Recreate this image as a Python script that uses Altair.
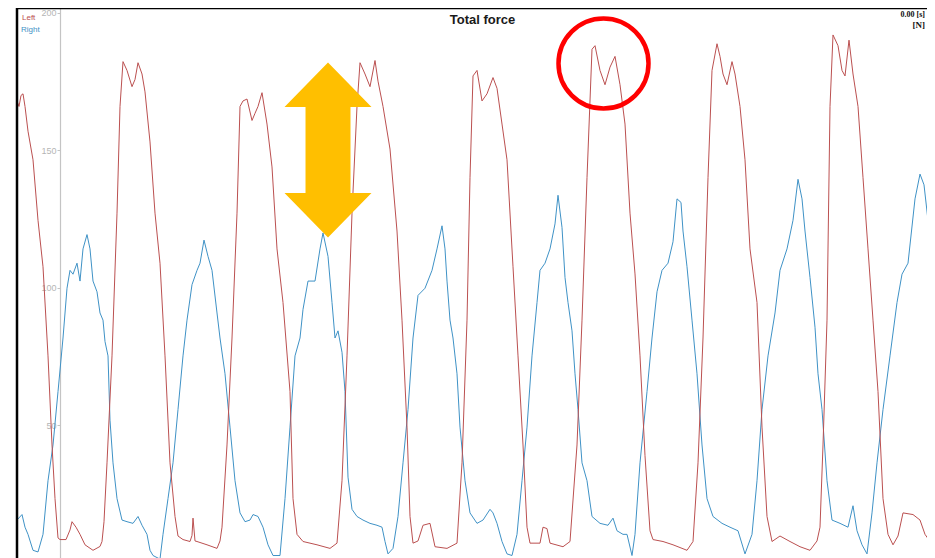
import altair as alt
import pandas as pd

# ---- data (time in s, force in N) ----
left_t = [0.00, 0.02, 0.04, 0.06, 0.08, 0.11, 0.16, 0.21, 0.26, 0.31, 0.35, 0.38, 0.41, 0.43, 0.49, 0.53, 0.55, 0.59,
          0.63, 0.68, 0.76, 0.83, 0.85, 0.87, 0.90, 0.95, 1.00, 1.03, 1.06, 1.10, 1.15, 1.18, 1.21, 1.25, 1.28, 1.33,
          1.38, 1.43, 1.48, 1.53, 1.58, 1.61, 1.66, 1.73, 1.75, 1.76, 1.78, 1.80, 1.90, 2.00, 2.03, 2.05, 2.10, 2.15,
          2.20, 2.23, 2.26, 2.30, 2.35, 2.38, 2.41, 2.45, 2.50, 2.55, 2.60, 2.66, 2.73, 2.76, 2.80, 2.86, 3.00, 3.13,
          3.20, 3.25, 3.30, 3.35, 3.40, 3.43, 3.48, 3.53, 3.58, 3.61, 3.66, 3.73, 3.80, 3.85, 3.90, 3.93, 3.96, 4.01,
          4.06, 4.13, 4.18, 4.30, 4.40, 4.45, 4.50, 4.53, 4.56, 4.60, 4.65, 4.70, 4.76, 4.80, 4.85, 4.90, 4.96, 5.01,
          5.06, 5.10, 5.13, 5.23, 5.26, 5.30, 5.33, 5.46, 5.53, 5.60, 5.65, 5.70, 5.75, 5.78, 5.83, 5.88, 5.93, 5.98,
          6.03, 6.08, 6.13, 6.18, 6.23, 6.28, 6.33, 6.36, 6.46, 6.56, 6.70, 6.76, 6.81, 6.86, 6.91, 6.95, 7.00, 7.03,
          7.06, 7.10, 7.15, 7.18, 7.23, 7.28, 7.33, 7.40, 7.45, 7.50, 7.55, 7.63, 7.73, 7.83, 7.93, 8.00, 8.03, 8.06,
          8.10, 8.13, 8.16, 8.21, 8.25, 8.28, 8.32, 8.36, 8.41, 8.46, 8.51, 8.56, 8.61, 8.66, 8.71, 8.76, 8.81, 8.86,
          8.96, 9.03, 9.08, 9.13, 9.18]
left_force = [168.0, 166.0, 170.0, 170.6, 166.0, 157.0, 146.6, 124.6, 107.7, 75.3, 42.9, 23.4, 9.1, 8.5, 8.5, 12.0,
              15.0, 13.0, 10.4, 6.6, 4.6, 6.0, 7.8, 15.0, 36.4, 75.3, 127.2, 166.0, 182.3, 179.1, 173.2, 175.8, 181.9,
              177.8, 171.3, 153.1, 127.2, 109.0, 75.3, 36.4, 16.9, 9.8, 8.5, 7.8, 10.0, 16.3, 8.0, 7.8, 6.6, 5.3, 8.0,
              13.0, 42.9, 81.8, 127.2, 166.0, 168.0, 168.7, 160.9, 163.5, 166.0, 171.0, 159.6, 144.0, 114.2, 94.7,
              62.3, 23.4, 10.4, 7.8, 6.6, 5.3, 7.2, 29.9, 75.3, 127.2, 166.0, 181.9, 177.8, 173.2, 182.7, 175.2,
              166.0, 150.5, 120.7, 88.3, 49.4, 16.9, 7.2, 8.0, 13.7, 14.4, 5.9, 5.3, 7.2, 36.4, 88.3, 140.1, 177.1,
              179.1, 168.0, 170.6, 176.5, 172.6, 159.6, 146.6, 107.7, 75.3, 42.9, 13.0, 7.2, 7.2, 13.0, 12.5, 7.2,
              5.9, 7.8, 42.9, 88.3, 140.1, 186.8, 188.1, 179.1, 173.9, 180.3, 184.2, 173.9, 159.6, 127.2, 105.1, 75.3,
              39.0, 11.7, 8.5, 7.8, 6.6, 4.6, 7.8, 36.4, 81.8, 140.1, 179.1, 188.8, 184.2, 177.8, 173.9, 182.3, 177.8,
              166.0, 146.6, 114.2, 94.7, 49.4, 16.9, 7.8, 9.8, 7.8, 5.9, 4.6, 8.0, 13.0, 42.9, 88.3, 166.0, 192.0,
              188.1, 179.1, 177.1, 190.1, 177.8, 166.0, 140.1, 114.2, 88.3, 62.3, 23.4, 10.4, 6.6, 9.8, 18.2, 17.6,
              15.6, 10.4, 7.8, 11.7]

right_t = [0.00, 0.05, 0.08, 0.11, 0.16, 0.21, 0.26, 0.31, 0.36, 0.41, 0.46, 0.50, 0.53, 0.56, 0.60, 0.63, 0.66, 0.70,
           0.73, 0.76, 0.80, 0.83, 0.86, 0.88, 0.91, 0.93, 0.96, 1.00, 1.05, 1.10, 1.16, 1.21, 1.25, 1.30, 1.33, 1.36,
           1.43, 1.46, 1.51, 1.56, 1.61, 1.66, 1.70, 1.75, 1.80, 1.83, 1.87, 1.91, 1.95, 2.00, 2.03, 2.08, 2.13, 2.18,
           2.23, 2.28, 2.33, 2.36, 2.41, 2.46, 2.51, 2.56, 2.63, 2.68, 2.73, 2.78, 2.83, 2.86, 2.91, 2.98, 3.03, 3.06,
           3.11, 3.15, 3.18, 3.21, 3.25, 3.28, 3.31, 3.35, 3.40, 3.46, 3.53, 3.60, 3.65, 3.68, 3.71, 3.76, 3.81, 3.86,
           3.91, 3.96, 4.01, 4.08, 4.15, 4.20, 4.25, 4.28, 4.30, 4.33, 4.36, 4.40, 4.43, 4.48, 4.53, 4.60, 4.66, 4.73,
           4.76, 4.80, 4.85, 4.90, 4.95, 5.00, 5.05, 5.10, 5.15, 5.20, 5.23, 5.28, 5.33, 5.38, 5.41, 5.45, 5.48, 5.51,
           5.55, 5.58, 5.61, 5.65, 5.70, 5.75, 5.83, 5.91, 5.96, 6.00, 6.06, 6.10, 6.15, 6.18, 6.23, 6.30, 6.35, 6.40,
           6.45, 6.51, 6.56, 6.60, 6.64, 6.66, 6.70, 6.75, 6.80, 6.85, 6.90, 6.96, 7.05, 7.13, 7.21, 7.28, 7.35, 7.40,
           7.45, 7.51, 7.58, 7.63, 7.70, 7.76, 7.81, 7.85, 7.88, 7.93, 7.98, 8.01, 8.05, 8.10, 8.15, 8.23, 8.31, 8.36,
           8.40, 8.45, 8.50, 8.55, 8.60, 8.66, 8.73, 8.80, 8.85, 8.91, 8.98, 9.03, 9.07, 9.11, 9.15, 9.18]
right_force = [15.6, 17.6, 13.0, 10.4, 4.6, 4.0, 10.4, 29.9, 42.9, 62.3, 81.8, 99.9, 106.4, 105.0, 109.0, 102.5, 114.2,
               119.4, 114.2, 102.5, 98.6, 90.9, 88.3, 80.5, 75.3, 51.9, 36.4, 23.4, 15.6, 15.0, 14.4, 16.9, 13.7,
               10.4, 4.6, 2.7, 1.4, 10.4, 23.4, 36.4, 55.8, 75.3, 88.3, 101.2, 106.4, 109.0, 117.4, 111.5, 106.4,
               90.9, 81.8, 68.8, 49.4, 29.9, 18.2, 15.0, 15.6, 17.6, 16.9, 13.0, 6.6, 2.7, 2.7, 23.4, 49.4, 75.3,
               81.8, 92.2, 102.5, 102.5, 114.2, 120.0, 111.5, 94.7, 81.8, 84.4, 76.6, 62.3, 31.2, 19.5, 16.9, 15.6,
               14.4, 13.7, 13.0, 7.8, 3.3, 5.3, 16.9, 36.4, 55.8, 81.8, 97.3, 99.9, 106.4, 114.2, 122.6, 114.2, 102.5,
               88.3, 81.8, 68.8, 49.4, 29.9, 18.2, 14.4, 15.6, 19.5, 18.2, 14.4, 7.8, 3.3, 2.7, 10.4, 29.9, 49.4,
               75.3, 94.7, 106.4, 109.0, 114.2, 123.3, 133.7, 122.0, 103.8, 94.7, 84.4, 68.8, 55.8, 36.4, 29.9, 16.9,
               14.4, 13.7, 16.3, 11.7, 10.4, 10.4, 2.7, 10.4, 36.4, 62.3, 81.8, 98.6, 106.4, 109.0, 116.8, 132.4,
               131.1, 120.7, 107.7, 88.3, 68.8, 42.9, 23.4, 16.9, 14.4, 13.0, 11.7, 3.3, 10.4, 29.9, 55.8, 75.3,
               90.9, 106.4, 114.2, 124.6, 139.5, 132.4, 120.7, 103.8, 85.7, 68.8, 55.8, 29.9, 15.6, 14.4, 13.0, 20.8,
               11.7, 6.6, 3.3, 18.2, 36.4, 55.8, 75.3, 94.7, 105.0, 109.0, 132.4, 141.4, 137.5, 124.6, 111.5, 101.2]

y_ticks = [50, 100, 150, 200]
series_names = ["Left", "Right"]
series_colors = ["#BB5050", "#3F92C6"]
chart_title = "Total force"
readout = ["0.00 [s]", "[N]"]

# the page body is 919px wide, so the visible window ends at t = 9.10 s
W, H = 910, 550
t_visible = [0, 9.10]

df_left = pd.DataFrame({"t": left_t, "force": left_force})
df_right = pd.DataFrame({"t": right_t, "force": right_force})

x_scale = alt.Scale(domain=t_visible, nice=False, zero=False)
y_scale = alt.Scale(domain=[1.8, 201.8], nice=False, zero=False)

y_axis = alt.Axis(values=y_ticks, offset=-43, grid=False, title=None,
                  labelColor="#B5B5B5", labelFontSize=9, labelFont="Liberation Sans",
                  labelPadding=1, tickSize=3, tickColor="#C4C4C4",
                  domainColor="#C4C4C4", domainWidth=1.2)

right_line = alt.Chart(df_right).mark_line(color=series_colors[1], strokeWidth=1, clip=True).encode(
    x=alt.X("t:Q", scale=x_scale, axis=None),
    y=alt.Y("force:Q", scale=y_scale, axis=y_axis),
)
left_line = alt.Chart(df_left).mark_line(color=series_colors[0], strokeWidth=1, clip=True).encode(
    x=alt.X("t:Q", scale=x_scale, axis=None),
    y=alt.Y("force:Q", scale=y_scale, axis=y_axis),
)

one = pd.DataFrame({"k": [0]})

frame_top = alt.Chart(one).mark_rule(color="black", strokeWidth=2.5).encode(
    x=alt.value(0), x2=alt.value(W), y=alt.value(0))
frame_left = alt.Chart(one).mark_rule(color="black", strokeWidth=2.5).encode(
    x=alt.value(0), y=alt.value(0), y2=alt.value(H))

title_txt = alt.Chart(pd.DataFrame({"label": [chart_title]})).mark_text(
    font="Liberation Sans", fontSize=13, fontWeight="bold", color="#1a1a1a", align="center", baseline="middle"
).encode(x=alt.value(465.5), y=alt.value(12), text="label:N")

leg_left = alt.Chart(pd.DataFrame({"label": [series_names[0]]})).mark_text(
    font="Liberation Sans", fontSize=8, color=series_colors[0], align="left", baseline="middle"
).encode(x=alt.value(5), y=alt.value(10), text="label:N")
leg_right = alt.Chart(pd.DataFrame({"label": [series_names[1]]})).mark_text(
    font="Liberation Sans", fontSize=8, color=series_colors[1], align="left", baseline="middle"
).encode(x=alt.value(4), y=alt.value(22), text="label:N")

read1 = alt.Chart(pd.DataFrame({"label": [readout[0]]})).mark_text(
    font="Liberation Serif", fontSize=8, fontWeight="bold", color="#111", align="right", baseline="middle"
).encode(x=alt.value(908), y=alt.value(7), text="label:N")
read2 = alt.Chart(pd.DataFrame({"label": [readout[1]]})).mark_text(
    font="Liberation Serif", fontSize=9, fontWeight="bold", color="#111", align="right", baseline="middle"
).encode(x=alt.value(908), y=alt.value(17), text="label:N")

arrow_path = ("M0,-1L0.497,-0.491L0.257,-0.491L0.257,0.491L0.497,0.491L0,1"
              "L-0.497,0.491L-0.257,0.491L-0.257,-0.491L-0.497,-0.491Z")
arrow = alt.Chart(one).mark_point(shape=arrow_path, filled=True, color="#FFBF00", opacity=1,
                                  size=30625, strokeWidth=0).encode(
    x=alt.value(311), y=alt.value(142))

ring = alt.Chart(one).mark_point(shape="circle", filled=False, color="#FF0000", opacity=1,
                                 size=8100, strokeWidth=4.5).encode(
    x=alt.value(586.5), y=alt.value(55.5))

chart = alt.layer(
    right_line, left_line, frame_top, frame_left, title_txt, leg_left, leg_right, read1, read2, arrow, ring
).properties(
    width=W, height=H,
    padding={"left": 9, "top": 0, "right": 0, "bottom": 0},
    autosize=alt.AutoSizeParams(type="none"),
).configure_view(stroke=None)

chart.save("out.html", embed_options={"renderer": "svg", "actions": False})
